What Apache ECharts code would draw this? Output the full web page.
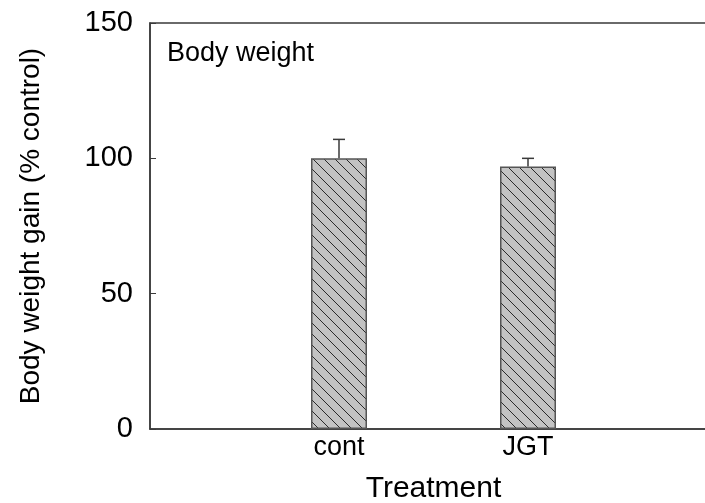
<!DOCTYPE html>
<html>
<head>
<meta charset="utf-8">
<script src="https://cdn.jsdelivr.net/npm/echarts@6/dist/echarts.min.js"></script>
<style>
html,body{margin:0;padding:0;background:#fff;}
#main{width:705px;height:503px;}
</style>
</head>
<body>
<div id="main"></div>
<script>
// Data
var categories = ['cont', 'JGT'];
var positions = [1, 2];
var meanValues = [100, 97];
var errValues = [7, 3];
var yTicks = [0, 50, 100, 150];

var FONT = '"Liberation Sans", Arial, sans-serif';

// hatch pattern
var pc = document.createElement('canvas');
pc.width = 11; pc.height = 11;
var ctx = pc.getContext('2d');
ctx.fillStyle = '#c3c3c3';
ctx.fillRect(0, 0, 11, 11);
ctx.strokeStyle = '#2a2a2a';
ctx.lineWidth = 1;
ctx.beginPath();
ctx.moveTo(-1, -1); ctx.lineTo(12, 12);
ctx.moveTo(-12, -1); ctx.lineTo(1, 12);
ctx.moveTo(10, -1); ctx.lineTo(23, 12);
ctx.stroke();

var barData = positions.map(function (p, i) { return [p, meanValues[i]]; });
var errData = positions.map(function (p, i) { return [p, meanValues[i], meanValues[i] + errValues[i]]; });

var chart = echarts.init(document.getElementById('main'), null, {renderer: 'canvas'});
chart.setOption({
  animation: false,
  backgroundColor: '#fff',
  grid: {
    left: 150, top: 23, width: 567, height: 406,
    outerBoundsMode: 'none', containLabel: false,
    show: true, borderColor: '#3a3a3a', borderWidth: 1.5, backgroundColor: 'transparent'
  },
  xAxis: {
    type: 'value', min: 0, max: 3, interval: 1,
    name: 'Treatment', nameLocation: 'middle', nameGap: 45,
    nameTextStyle: {fontFamily: FONT, fontSize: 30, color: '#000'},
    axisLine: {show: true, lineStyle: {color: '#3a3a3a', width: 1.5}},
    axisTick: {show: false},
    splitLine: {show: false},
    axisLabel: {
      fontFamily: FONT, fontSize: 27, color: '#000', margin: 5,
      formatter: function (v) {
        var idx = positions.indexOf(v);
        return idx >= 0 ? categories[idx] : '';
      }
    }
  },
  yAxis: {
    type: 'value', min: 0, max: 150, interval: 50,
    name: 'Body weight gain (% control)', nameLocation: 'middle', nameGap: 105,
    nameTextStyle: {fontFamily: FONT, fontSize: 28, color: '#000'},
    axisLine: {show: true, lineStyle: {color: '#3a3a3a', width: 1.5}},
    axisTick: {show: true, inside: true, length: 6, lineStyle: {color: '#3a3a3a', width: 1}},
    splitLine: {show: false},
    axisLabel: {
      fontFamily: FONT, fontSize: 29, color: '#000', margin: 17,
      formatter: function (v) { return yTicks.indexOf(v) >= 0 ? String(v) : ''; }
    }
  },
  graphic: [{
    type: 'text', left: 167, top: 40,
    style: {text: 'Body weight', fontFamily: FONT, fontSize: 27, fill: '#000'}
  }],
  series: [{
    type: 'bar',
    data: barData,
    barWidth: 56,
    itemStyle: {
      color: {image: pc, repeat: 'repeat'},
      borderColor: '#555555', borderWidth: 1.5
    },
    z: 2
  }, {
    type: 'custom',
    data: errData,
    z: 3,
    renderItem: function (params, api) {
      var x = api.value(0);
      var p0 = api.coord([x, api.value(1)]);
      var p1 = api.coord([x, api.value(2)]);
      var hw = 6;
      return {
        type: 'group',
        children: [{
          type: 'line',
          shape: {x1: p0[0], y1: p0[1], x2: p1[0], y2: p1[1]},
          style: {stroke: '#3a3a3a', lineWidth: 1.5}
        }, {
          type: 'line',
          shape: {x1: p1[0] - hw, y1: p1[1], x2: p1[0] + hw, y2: p1[1]},
          style: {stroke: '#3a3a3a', lineWidth: 1.5}
        }]
      };
    }
  }]
});
</script>
</body>
</html>
